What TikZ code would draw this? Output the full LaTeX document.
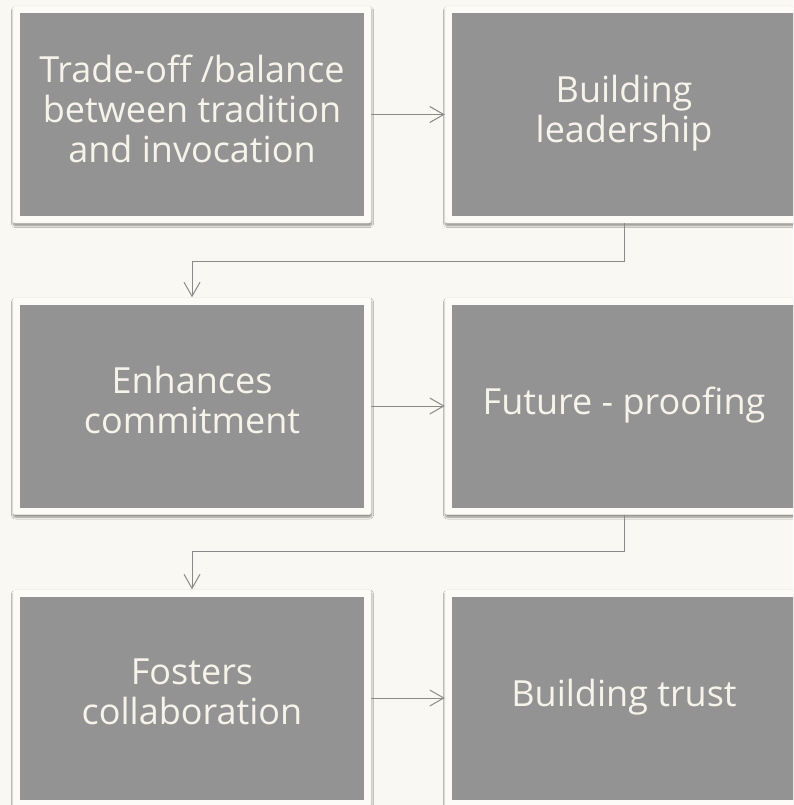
\documentclass[tikz,border=0pt]{standalone}
\usepackage{fontspec}
\setmainfont{Open Sans}
\usetikzlibrary{arrows.meta,shadows.blur}

\definecolor{paper}{HTML}{FAF8F2}
\definecolor{frame}{HTML}{FCFBF7}
\definecolor{frameedge}{HTML}{EEECE5}
\definecolor{boxgrey}{HTML}{939393}
\definecolor{boxtext}{HTML}{F6F3EA}
\definecolor{linkgrey}{HTML}{8A8A8A}

\begin{document}
\begin{tikzpicture}[x=1pt, y=-1pt,
    stage/.style={shape=rectangle, minimum width=358pt, minimum height=217pt,
      rounded corners=2pt, fill=frame, draw=frameedge, line width=.5pt,
      blur shadow={shadow xshift=.5pt, shadow yshift=-2.5pt, shadow blur steps=6,
        shadow blur radius=2pt, shadow opacity=45},
      path picture={\fill[boxgrey, sharp corners]
        ([shift={(7pt,7pt)}]path picture bounding box.south west) rectangle
        ([shift={(-7pt,-7pt)}]path picture bounding box.north east);},
      text=boxtext, align=center, font=\fontsize{36}{40}\selectfont,
      execute at begin node=\strut, execute at end node=\strut},
    link/.style={draw=linkgrey, line width=1pt,
      -{Straight Barb[length=14pt, width=16pt, line width=1pt]}}]

      % page and clipping
      \fill[paper] (0,0) rectangle (793,805);
      \clip (0,0) rectangle (793,805);

      \node[stage] (A) at (192,114.5) {Trade-off /balance\\between tradition\\and invocation};
      \node[stage] (B) at (624,114.5) {Building\\leadership};
      \node[stage] (C) at (192,406) {Enhances\\commitment};
      \node[stage] (D) at (624,406) {Future - proofing};
      \node[stage] (E) at (192,698) {Fosters\\collaboration};
      \node[stage] (F) at (624,698) {Building trust};

      \path [link] (A) edge (B);
      \path [link] (C) edge (D);
      \path [link] (E) edge (F);

      \draw [link] (B.south) -- ++(0,38) -| (C.north);
      \draw [link] (D.south) -- ++(0,37) -| (E.north);
    \end{tikzpicture}
\end{document}
